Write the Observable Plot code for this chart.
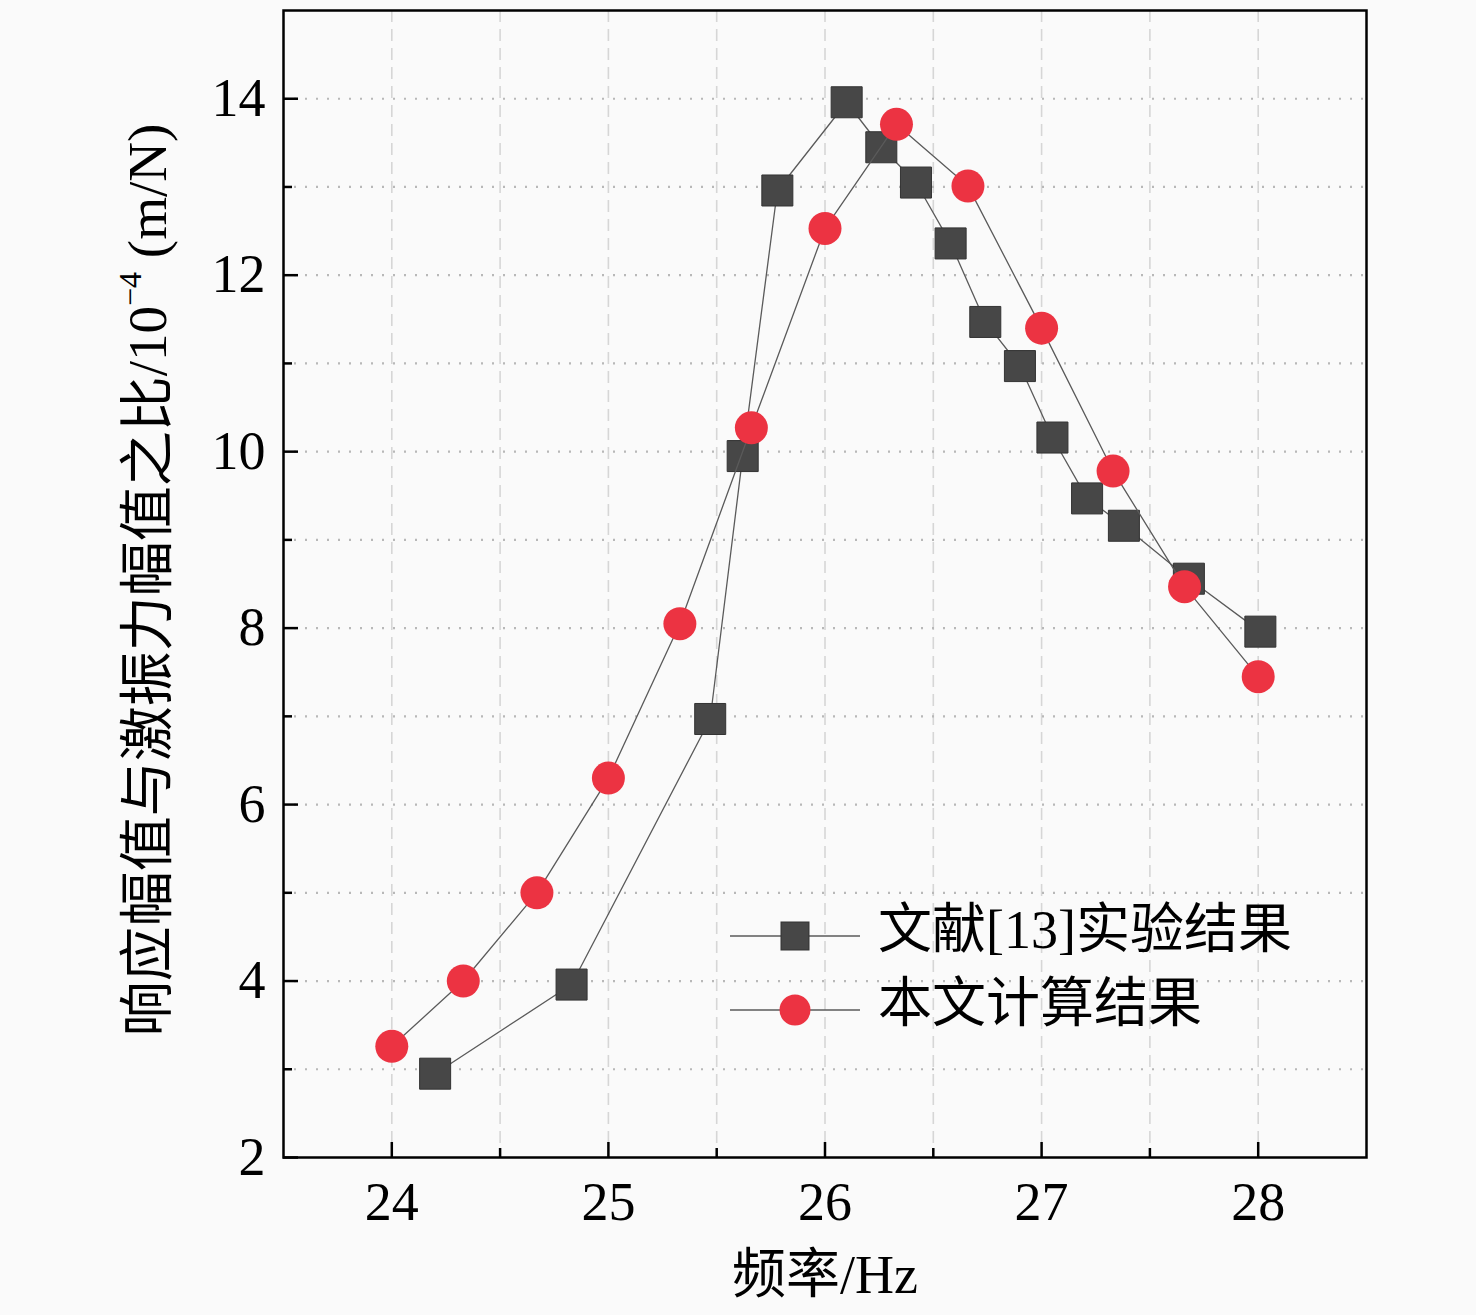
<!DOCTYPE html>
<html><head><meta charset="utf-8">
<script src="https://cdn.jsdelivr.net/npm/d3@7"></script>
<script src="https://cdn.jsdelivr.net/npm/@observablehq/plot@0.6"></script>
<style>
body{margin:0;background:#fafafa;}
#chart{position:relative;width:1476px;height:1315px;}
</style></head><body><div id="chart"></div>
<script>
// ---- data ----
const expFreq  = [24.2, 24.83, 25.47, 25.62, 25.78, 26.1, 26.26, 26.42, 26.58, 26.74, 26.9, 27.05, 27.21, 27.38, 27.68, 28.01];
const expRatio = [2.95, 3.96, 6.97, 9.95, 12.96, 13.96, 13.45, 13.05, 12.36, 11.47, 10.97, 10.16, 9.47, 9.16, 8.56, 7.96];
const calcFreq  = [24.0, 24.33, 24.67, 25.0, 25.33, 25.66, 26.0, 26.33, 26.66, 27.0, 27.33, 27.66, 28.0];
const calcRatio = [3.26, 4.0, 5.0, 6.30, 8.05, 10.27, 12.53, 13.71, 13.01, 11.40, 9.78, 8.47, 7.45];
const xTicks = [24, 25, 26, 27, 28];
const xMinor = [24.5, 25.5, 26.5, 27.5];
const yTicks = [2, 4, 6, 8, 10, 12, 14];
const yMinor = [3, 5, 7, 9, 11, 13];
const seriesNames = ["文献[13]实验结果", "本文计算结果"];
const xLabel = "频率/Hz";
const yLabelMain = "响应幅值与激振力幅值之比/10";
const yLabelSup = "−4";
const yLabelUnit = " (m/N)";

const exp = expFreq.map((x, i) => ({x, y: expRatio[i]}));
const calc = calcFreq.map((x, i) => ({x, y: calcRatio[i]}));

const FONT = "'Liberation Serif','Noto Sans CJK SC',serif";
const sqFill = "#474747", redFill = "#ec3342", lineCol = "#5a5a5a";

const plot = Plot.plot({
  width: 1476, height: 1315,
  marginLeft: 283, marginRight: 110, marginTop: 10, marginBottom: 158,
  style: {background: "transparent", fontFamily: FONT, fontSize: "54px", color: "#000"},
  x: {domain: [23.5, 28.5]},
  y: {domain: [2, 15]},
  marks: [
    Plot.ruleX([...xTicks, ...xMinor], {stroke: "#d6d6d6", strokeWidth: 1.6, strokeDasharray: "12,7"}),
    Plot.ruleY([...yTicks.slice(1), ...yMinor], {stroke: "#b8b8b8", strokeWidth: 2.2, strokeDasharray: "2,9"}),
    Plot.ruleX(xTicks, {x: d => d, y1: 2, y2: 2, insetTop: -15, stroke: "#000", strokeWidth: 2.5}),
    Plot.ruleX(xMinor, {x: d => d, y1: 2, y2: 2, insetTop: -9, stroke: "#000", strokeWidth: 2.5}),
    Plot.ruleY(yTicks, {y: d => d, x1: 23.5, x2: 23.5, insetRight: -15, stroke: "#000", strokeWidth: 2.5}),
    Plot.ruleY(yMinor, {y: d => d, x1: 23.5, x2: 23.5, insetRight: -9, stroke: "#000", strokeWidth: 2.5}),
    Plot.axisX({ticks: xTicks, tickSize: 0, tickPadding: 24, label: null, fontSize: 54, tickFormat: d => String(d)}),
    Plot.axisY({ticks: yTicks, tickSize: 0, tickPadding: 18, label: null, fontSize: 54, tickFormat: d => String(d)}),
    Plot.line(exp, {x: "x", y: "y", stroke: lineCol, strokeWidth: 1.3}),
    Plot.dot(exp, {x: "x", y: "y", symbol: "square", r: 17.5, fill: sqFill, stroke: "#333", strokeWidth: 1}),
    Plot.line(calc, {x: "x", y: "y", stroke: lineCol, strokeWidth: 1.3}),
    Plot.dot(calc, {x: "x", y: "y", r: 16.5, fill: redFill, stroke: "none"}),
    Plot.frame({stroke: "#000", strokeWidth: 2.5})
  ]
});
document.getElementById("chart").appendChild(plot);

// labels and legend
const svg = d3.select(plot);
svg.append("text")
  .attr("x", 825).attr("y", 1281)
  .attr("text-anchor", "middle").attr("dominant-baseline", "middle")
  .style("font-family", FONT).style("font-size", "54px").attr("fill", "#000")
  .text(xLabel);

const yl = svg.append("text")
  .attr("transform", "translate(153,580) rotate(-90)")
  .attr("text-anchor", "middle").attr("dominant-baseline", "middle")
  .style("font-family", FONT).style("font-size", "55px").attr("fill", "#000");
yl.append("tspan").text(yLabelMain);
yl.append("tspan").attr("dy", -19).style("font-size", "32px").text(yLabelSup);
yl.append("tspan").attr("dy", 19).text(yLabelUnit);

const leg = svg.append("g");
const legendY = [936, 1010];
seriesNames.forEach((name, i) => {
  const g = leg.append("g").attr("transform", `translate(0,${legendY[i]})`);
  g.append("line").attr("x1", 730).attr("x2", 860).attr("y1", 0).attr("y2", 0)
    .attr("stroke", lineCol).attr("stroke-width", 1.5);
  if (i === 0) {
    g.append("rect").attr("x", 795 - 14).attr("y", -14).attr("width", 28).attr("height", 28)
      .attr("fill", sqFill).attr("stroke", "#333");
  } else {
    g.append("circle").attr("cx", 795).attr("cy", 0).attr("r", 15.5).attr("fill", redFill);
  }
  g.append("text").attr("x", 878).attr("y", 0)
    .attr("text-anchor", "start").attr("dominant-baseline", "middle")
    .style("font-family", FONT).style("font-size", "54px").attr("fill", "#000")
    .text(name);
});
</script>
</body></html>
